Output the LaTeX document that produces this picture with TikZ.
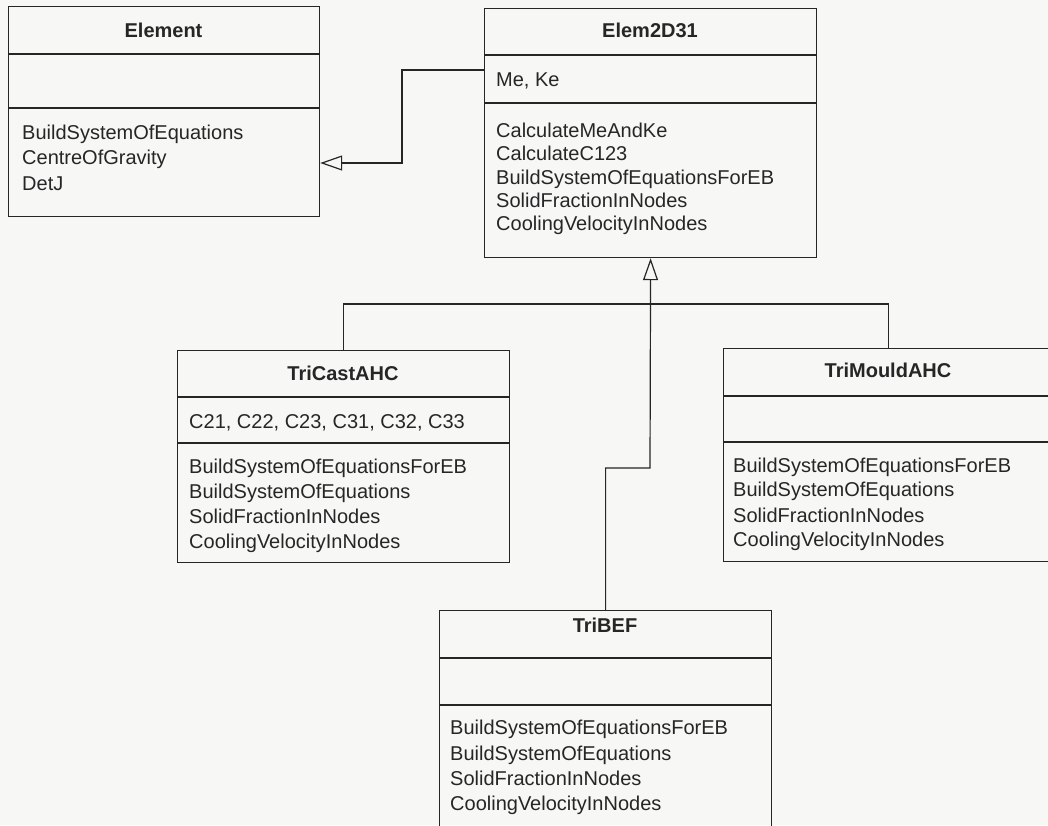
\documentclass[tikz,border=0pt]{standalone}
\usepackage{fontspec}
\setmainfont{Liberation Sans}
\usetikzlibrary{arrows.meta}
\definecolor{ink}{HTML}{262626}
\definecolor{paper}{HTML}{F7F7F5}
\tikzset{
  cls/.style={draw=ink, line width=1.2pt, rectangle, inner sep=0pt, anchor=north west},
  sep/.style={draw=ink, line width=1.2pt},
  link/.style={draw=ink, line width=1.2pt},
  inh/.style={link, -{Triangle[open, length=22pt, width=15pt, fill=paper]}},
  ttl/.style={font=\fontsize{20}{24}\selectfont\bfseries, text=ink, anchor=base, inner sep=0pt},
  mem/.style={font=\fontsize{20}{24}\selectfont, text=ink, anchor=base west, inner sep=0pt}
}
\begin{document}
\begin{tikzpicture}[x=1pt, y=-1pt]
  \fill[paper] (0,0) rectangle (1048,825);
  \useasboundingbox (0,0) rectangle (1048,825);

  % Element
  \node[cls, minimum width=311pt, minimum height=210pt] (element) at (8,6) {};
  \draw[sep] (element.west |- 0,54) -- (element.east |- 0,54);
  \draw[sep] (element.west |- 0,108) -- (element.east |- 0,108);
  \node[ttl] (elementT) at (163.5,37) {Element};
  \node[mem] (elementM1) at (22,139) {BuildSystemOfEquations};
  \node[mem] (elementM2) at (22,164) {CentreOfGravity};
  \node[mem] (elementM3) at (22,190) {DetJ};

  % Elem2D31
  \node[cls, minimum width=332pt, minimum height=249pt] (elem2d) at (484,8) {};
  \draw[sep] (elem2d.west |- 0,55) -- (elem2d.east |- 0,55);
  \draw[sep] (elem2d.west |- 0,103) -- (elem2d.east |- 0,103);
  \node[ttl] (elem2dT) at (650,37) {Elem2D31};
  \node[mem] (elem2dA) at (496,86) {Me, Ke};
  \node[mem] (elem2dM1) at (496,137) {CalculateMeAndKe};
  \node[mem] (elem2dM2) at (496,160) {CalculateC123};
  \node[mem] (elem2dM3) at (496,184) {BuildSystemOfEquationsForEB};
  \node[mem] (elem2dM4) at (496,207) {SolidFractionInNodes};
  \node[mem] (elem2dM5) at (496,230) {CoolingVelocityInNodes};

  % TriCastAHC
  \node[cls, minimum width=332pt, minimum height=212pt] (tricast) at (177,350) {};
  \draw[sep] (tricast.west |- 0,397) -- (tricast.east |- 0,397);
  \draw[sep] (tricast.west |- 0,443) -- (tricast.east |- 0,443);
  \node[ttl] (tricastT) at (343,380) {TriCastAHC};
  \node[mem] (tricastA) at (189,428) {C21, C22, C23, C31, C32, C33};
  \node[mem] (tricastM1) at (189,473) {BuildSystemOfEquationsForEB};
  \node[mem] (tricastM2) at (189,498) {BuildSystemOfEquations};
  \node[mem] (tricastM3) at (189,523) {SolidFractionInNodes};
  \node[mem] (tricastM4) at (189,548) {CoolingVelocityInNodes};

  % TriMouldAHC
  \node[cls, minimum width=330pt, minimum height=213pt] (trimould) at (723,348) {};
  \draw[sep] (trimould.west |- 0,396) -- (trimould.east |- 0,396);
  \draw[sep] (trimould.west |- 0,442) -- (trimould.east |- 0,442);
  \node[ttl] (trimouldT) at (888,377) {TriMouldAHC};
  \node[mem] (trimouldM1) at (733,472) {BuildSystemOfEquationsForEB};
  \node[mem] (trimouldM2) at (733,496) {BuildSystemOfEquations};
  \node[mem] (trimouldM3) at (733,522) {SolidFractionInNodes};
  \node[mem] (trimouldM4) at (733,546) {CoolingVelocityInNodes};

  % TriBEF
  \node[cls, minimum width=332pt, minimum height=240pt] (tribef) at (439,610) {};
  \draw[sep] (tribef.west |- 0,658) -- (tribef.east |- 0,658);
  \draw[sep] (tribef.west |- 0,705) -- (tribef.east |- 0,705);
  \node[ttl] (tribefT) at (605,632) {TriBEF};
  \node[mem] (tribefM1) at (450,734) {BuildSystemOfEquationsForEB};
  \node[mem] (tribefM2) at (450,760) {BuildSystemOfEquations};
  \node[mem] (tribefM3) at (450,785) {SolidFractionInNodes};
  \node[mem] (tribefM4) at (450,810) {CoolingVelocityInNodes};

  % generalisation links
  \coordinate (fork) at (650,304);
  \coordinate (jog) at (650,468);
  \draw[inh] ([yshift=-62pt]elem2d.north west) -| ++(-82,93)
             -- ([yshift=-157pt]element.north east);
  \draw[inh] (tribef.north) |- (jog) -- (elem2d.south);
  \draw[link] (tricast.north) |- (fork) -| (trimould.north);
\end{tikzpicture}
\end{document}
